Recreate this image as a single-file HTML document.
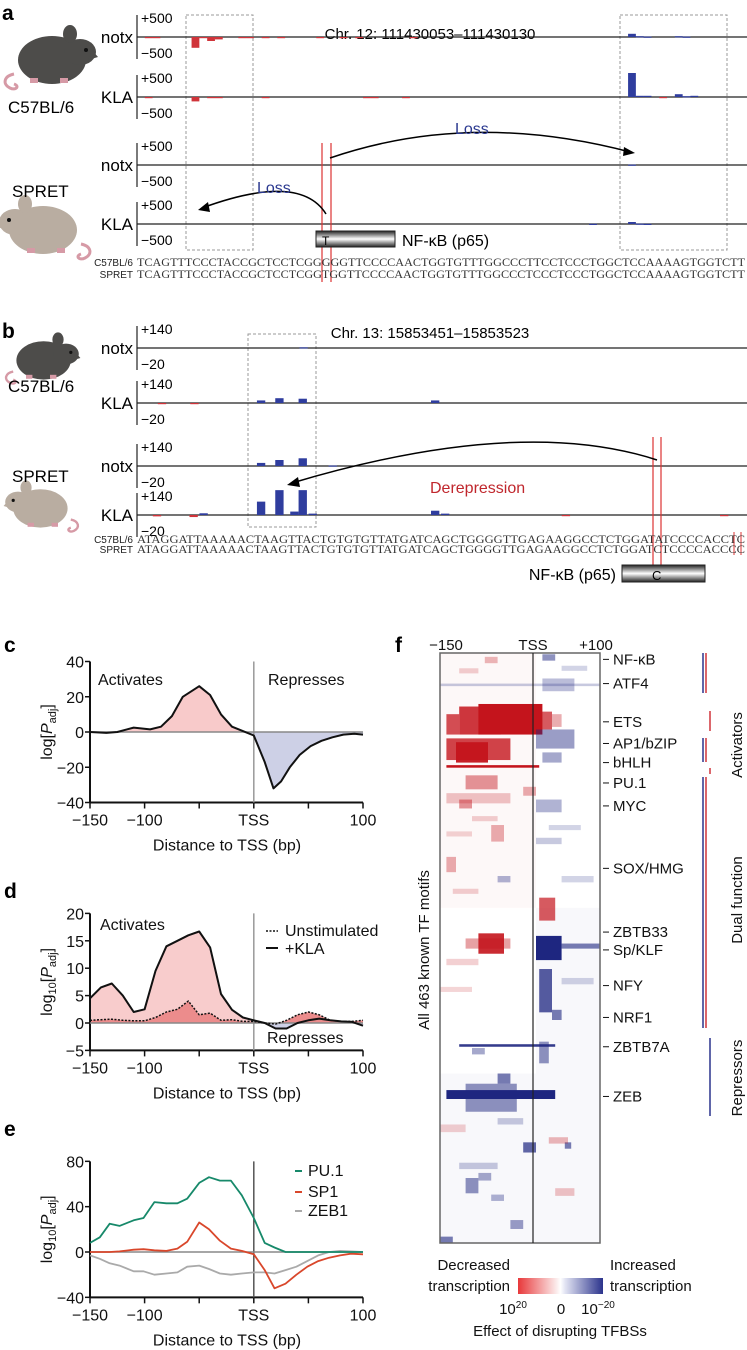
<!DOCTYPE html>
<html><head><meta charset="utf-8"><style>
body{margin:0;background:#fff;}
svg{display:block;font-family:"Liberation Sans",sans-serif;}
.pl{font-weight:bold;font-size:21px;}
.tk{font-size:16px;fill:#111;}
.seq{font-family:"Liberation Serif",serif;font-size:12px;fill:#333;}
.sm{font-size:10px;fill:#222;}
.tl{font-size:15px;fill:#111;}
.rl{font-size:15px;fill:#111;}
</style></head><body>
<svg id="fig" width="747" height="1350" viewBox="0 0 747 1350" xmlns="http://www.w3.org/2000/svg">
<defs>
<linearGradient id="boxg" x1="0" y1="0" x2="0" y2="1"><stop offset="0" stop-color="#222"/><stop offset="0.5" stop-color="#fff"/><stop offset="1" stop-color="#222"/></linearGradient>
<linearGradient id="cbar" x1="0" y1="0" x2="1" y2="0"><stop offset="0" stop-color="#e8383a"/><stop offset="0.45" stop-color="#fbeaea"/><stop offset="0.5" stop-color="#fff"/><stop offset="0.55" stop-color="#e4e6f4"/><stop offset="1" stop-color="#2b338c"/></linearGradient>
<g id="mouse">
<path d="M14,62 C4,64 2,72 10,76 C16,79 20,74 14,72" fill="none" stroke="#d69aa6" stroke-width="3"/>
<ellipse cx="52" cy="48" rx="34" ry="24"/>
<ellipse cx="80" cy="40" rx="16" ry="13"/>
<ellipse cx="70" cy="22" rx="7" ry="9"/>
<path d="M92,38 L98,45 L88,48 Z"/>
<rect x="30" y="66" width="8" height="5" fill="#d69aa6"/><rect x="60" y="66" width="8" height="5" fill="#d69aa6"/>
<circle cx="86" cy="38" r="2" fill="#111"/>
</g>
</defs>

<!-- ===== Panel a ===== -->
<text class="pl" x="2" y="20">a</text>
<use href="#mouse" x="0" y="12" fill="#4d4c4a"/>
<use href="#mouse" transform="translate(95,182) scale(-1,1)" fill="#b9ada1"/>
<text x="8" y="113" style="font-size:17px">C57BL/6</text>
<text x="12" y="197" style="font-size:17px">SPRET</text>
<text x="430" y="39" text-anchor="middle" style="font-size:15px">Chr. 12: 111430053–111430130</text>
<rect x="186" y="15" width="67" height="235" fill="none" stroke="#999" stroke-dasharray="3,2"/>
<rect x="620" y="15" width="107" height="235" fill="none" stroke="#999" stroke-dasharray="3,2"/>
<g id="tracksA"></g>
<line x1="322" y1="143" x2="322" y2="282" stroke="#d33" stroke-width="1.2"/><line x1="331" y1="143" x2="331" y2="282" stroke="#d33" stroke-width="1.2"/>
<path d="M330,158 Q470,110 630,152" fill="none" stroke="#000" stroke-width="1.5"/>
<path d="M624,147 L635,153 L623,156 Z" fill="#000"/>
<text x="455" y="134" style="font-size:16px;fill:#2b3990">Loss</text>
<path d="M326,214 Q300,172 202,208" fill="none" stroke="#000" stroke-width="1.5"/>
<path d="M208,202 L198,210 L210,212 Z" fill="#000"/>
<text x="257" y="193" style="font-size:16px;fill:#2b3990">Loss</text>
<rect x="316" y="231" width="79" height="16" fill="url(#boxg)" stroke="#222"/>
<text x="322" y="245" style="font-size:12px">T</text>
<text x="402" y="246" style="font-size:16px">NF-κB (p65)</text>
<text class="sm" x="133" y="266" text-anchor="end">C57BL/6</text>
<text class="sm" x="133" y="278" text-anchor="end">SPRET</text>
<text class="seq" x="137" y="266" textLength="608" lengthAdjust="spacingAndGlyphs">TCAGTTTCCCTACCGCTCCTCGGGGGTTCCCCAACTGGTGTTTGGCCCTTCCTCCCTGGCTCCAAAAGTGGTCTT</text>
<text class="seq" x="137" y="278" textLength="608" lengthAdjust="spacingAndGlyphs">TCAGTTTCCCTACCGCTCCTCGGTGGTTCCCCAACTGGTGTTTGGCCCTCCCTCCCTGGCTCCAAAAGTGGTCTT</text>

<!-- ===== Panel b ===== -->
<text class="pl" x="2" y="338">b</text>
<use href="#mouse" transform="translate(2,322) scale(0.8)" fill="#4d4c4a"/>
<use href="#mouse" transform="translate(82,470) scale(-0.8,0.8)" fill="#b9ada1"/>
<text x="8" y="392" style="font-size:17px">C57BL/6</text>
<text x="12" y="482" style="font-size:17px">SPRET</text>
<text x="430" y="338" text-anchor="middle" style="font-size:15px">Chr. 13: 15853451–15853523</text>
<rect x="248" y="334" width="68" height="193" fill="none" stroke="#999" stroke-dasharray="3,2"/>
<g id="tracksB"></g>
<line x1="653" y1="437" x2="653" y2="582" stroke="#d33" stroke-width="1.2"/><line x1="661" y1="437" x2="661" y2="582" stroke="#d33" stroke-width="1.2"/>
<line x1="734" y1="532" x2="734" y2="555" stroke="#d33"/><line x1="741" y1="532" x2="741" y2="555" stroke="#d33"/>
<path d="M657,460 Q520,415 292,483" fill="none" stroke="#000" stroke-width="1.5"/>
<path d="M298,477 L287,485 L300,487 Z" fill="#000"/>
<text x="430" y="493" style="font-size:16px;fill:#c0272d">Derepression</text>
<text class="sm" x="133" y="543" text-anchor="end">C57BL/6</text>
<text class="sm" x="133" y="553" text-anchor="end">SPRET</text>
<text class="seq" x="137" y="543" textLength="608" lengthAdjust="spacingAndGlyphs">ATAGGATTAAAAACTAAGTTACTGTGTGTTATGATCAGCTGGGGTTGAGAAGGCCTCTGGATATCCCCACCTC</text>
<text class="seq" x="137" y="553" textLength="608" lengthAdjust="spacingAndGlyphs">ATAGGATTAAAAACTAAGTTACTGTGTGTTATGATCAGCTGGGGTTGAGAAGGCCTCTGGATCTCCCCACCCC</text>
<rect x="622" y="565" width="83" height="17" fill="url(#boxg)" stroke="#222"/>
<text x="652" y="580" style="font-size:13px">C</text>
<text x="616" y="580" text-anchor="end" style="font-size:16px">NF-κB (p65)</text>

<!-- ===== Panels c,d,e ===== -->
<text class="pl" x="4" y="652">c</text>
<text class="pl" x="4" y="898">d</text>
<text class="pl" x="4" y="1136">e</text>
<g id="chartC"></g><g id="chartD"></g><g id="chartE"></g>

<!-- ===== Panel f ===== -->
<text class="pl" x="395" y="652">f</text>
<text class="tl" x="446" y="650" text-anchor="middle">−150</text>
<text class="tl" x="533" y="650" text-anchor="middle">TSS</text>
<text class="tl" x="596" y="650" text-anchor="middle">+100</text>
<g id="heat"></g>
<rect x="440" y="653" width="160" height="590" fill="none" stroke="#666" stroke-width="1.5"/>
<line x1="533" y1="653" x2="533" y2="1243" stroke="#222" stroke-width="1.2"/>
<text transform="translate(429,950) rotate(-90)" text-anchor="middle" class="rl">All 463 known TF motifs</text>
<g id="flabels"></g>
<g>
<line x1="703" y1="653" x2="703" y2="693" stroke="#2b338c" stroke-width="1.5"/><line x1="706" y1="653" x2="706" y2="693" stroke="#d0343a" stroke-width="1.5"/>
<line x1="710" y1="711" x2="710" y2="731" stroke="#d0343a" stroke-width="1.5"/>
<line x1="703" y1="738" x2="703" y2="762" stroke="#2b338c" stroke-width="1.5"/><line x1="706" y1="738" x2="706" y2="762" stroke="#d0343a" stroke-width="1.5"/>
<line x1="710" y1="768" x2="710" y2="774" stroke="#d0343a" stroke-width="1.5"/>
<line x1="703" y1="777" x2="703" y2="1028" stroke="#2b338c" stroke-width="1.5"/><line x1="706" y1="777" x2="706" y2="1028" stroke="#d0343a" stroke-width="1.5"/>
<line x1="710" y1="1038" x2="710" y2="1116" stroke="#2b338c" stroke-width="1.5"/>
</g>
<text transform="translate(742,745) rotate(-90)" text-anchor="middle" class="rl">Activators</text>
<text transform="translate(742,900) rotate(-90)" text-anchor="middle" class="rl">Dual function</text>
<text transform="translate(742,1078) rotate(-90)" text-anchor="middle" class="rl">Repressors</text>
<rect x="518" y="1278" width="85" height="16" fill="url(#cbar)"/>
<text class="tl" x="510" y="1270" text-anchor="end">Decreased</text>
<text class="tl" x="510" y="1291" text-anchor="end">transcription</text>
<text class="tl" x="610" y="1270">Increased</text>
<text class="tl" x="610" y="1291">transcription</text>
<text class="tl" x="513" y="1314" text-anchor="middle">10<tspan dy="-6" style="font-size:10px">20</tspan></text>
<text class="tl" x="561" y="1314" text-anchor="middle">0</text>
<text class="tl" x="598" y="1314" text-anchor="middle">10<tspan dy="-6" style="font-size:10px">−20</tspan></text>
<text class="tl" x="560" y="1336" text-anchor="middle">Effect of disrupting TFBSs</text>
</svg>
<script>
// ---------- data ----------
const aC57notx=[[1,-30],[2,-10],[7,-270],[8,-20],[9,-100],[10,-60],[13,-10],[14,-15],[16,-15],[18,-10],[23,-10],[26,-10],[28,-10],[35,-5],[63,80],[64,20],[65,10],[69,20],[70,10]];
const aC57kla=[[1,-10],[7,-110],[9,-20],[10,-20],[16,-20],[29,-20],[30,-20],[34,-10],[63,600],[64,30],[65,30],[67,-15],[69,70],[70,20],[71,30]];
const aSPnotx=[[63,10]];
const aSPkla=[[58,5],[63,50],[64,10],[65,5]];
const bC57notx=[[19.5,4]];
const bC57kla=[[2.5,-4],[6.4,-4],[14.4,15],[16.6,28],[19.4,25],[35.3,15]];
const bSPnotx=[[14.4,18],[16.6,35],[19.4,45],[23,3]];
const bSPkla=[[1.9,-8],[6.3,-12],[7.5,10],[14.4,78],[16.6,145],[18.4,20],[19.4,145],[20.6,8],[35.3,25],[36.5,8],[51,-4],[70,-4]];
const cX=[-150,-135,-125,-110,-95,-85,-75,-65,-50,-40,-30,-20,-10,0,10,18,25,33,42,52,62,72,82,92,100];
const cY=[0,-0.5,0,2.5,1.5,3,9,20,26,21,10,3,0.5,-2,-17,-32,-28,-20,-13,-8,-5,-3,-1.5,-1,-1.5];
const dX=[-150,-140,-130,-120,-110,-100,-90,-80,-70,-60,-50,-40,-30,-20,-10,0,10,20,30,40,50,60,70,80,90,100];
const dKLA=[4.5,6.5,7.2,5,2,2.5,9.5,14,15,16,16.7,13.8,5.3,2.4,1,0.5,0,-1,-1,0,0.5,0.8,0.5,0.3,0.2,-0.5];
const dUn=[0.5,0.6,0.7,0.5,0.4,0.4,1,2,2.5,4,1.5,1.8,0.5,0.6,0.3,0.3,0,-0.2,0.5,1.5,2,1.5,0.5,0.3,0.3,0.5];
const eX=[-150,-141,-132,-123,-110,-101,-91,-80,-70,-61,-50,-41,-31,-21,-11,0,10,19,29,39,49,59,69,79,89,100];
const ePU1=[8,13,25,23,28,30,44,43,43,47,61,66,63,63,50,30,8,4,0,0,0,0,0,0,0,0];
const eSP1=[0,0,0,0.5,2,2.5,1.5,1,3,9,26,20,10,3,1,-2,-16,-32,-28,-20,-13,-8,-5,-3,-1.5,-2];
const eZEB1=[-3,-6,-10,-12,-17,-17,-20,-19,-18,-13,-12,-15,-19,-20,-19,-18,-18,-19,-16,-13,-8,-3,0,1,0.5,0];
// heatmap blobs: [bpStart,bpEnd,rowStart,rowEnd,value(+red,-blue)]
const heatBlobs=[[-150,0,0,200,0.03],[0,100,200,330,-0.03],[-150,100,330,463,-0.03],
[10,30,1,6,-0.5],[-80,-60,3,8,0.3],[-150,100,24,26,-0.25],[10,60,20,30,-0.3],[-120,-90,12,16,0.2],[40,80,10,14,-0.2],
[-140,-120,48,64,0.75],[-120,-55,42,64,0.85],[-90,10,40,64,1.0],[0,25,46,60,0.7],[25,40,48,58,0.35],
[-140,-40,67,84,0.8],[-125,-75,70,86,0.95],[-140,5,88,90,1.0],[0,60,60,75,-0.45],[10,40,78,86,-0.4],
[-110,-60,96,107,0.45],[-140,-40,110,118,0.25],[-120,-100,115,122,0.45],[-20,0,105,112,0.35],[0,40,115,125,-0.35],
[-140,-125,160,172,0.35],[-70,-50,135,148,0.35],[-60,-40,175,180,-0.35],[0,40,145,150,-0.25],
[-100,-60,128,132,0.2],[-140,-100,140,144,0.18],[20,70,135,139,-0.2],[-130,-90,185,189,0.2],[40,90,175,180,-0.2],
[5,30,192,210,0.7],[-90,-50,220,236,0.9],[-110,-40,224,232,0.4],[0,40,222,241,-1.0],[40,100,228,232,-0.6],
[-140,-90,240,245,0.2],[-150,-100,262,266,0.18],[40,90,255,260,-0.2],
[5,25,248,282,-0.75],[25,40,280,288,-0.6],[-120,30,307,309,-0.9],[5,20,305,322,-0.5],[-100,-80,310,315,-0.4],
[-140,30,343,350,-1.0],[-110,-30,338,360,-0.5],[-60,-40,330,338,-0.6],[-20,0,384,392,-0.7],[45,55,384,389,-0.6],
[-110,-90,412,424,-0.5],[-90,-70,408,414,-0.4],[-70,-50,425,430,-0.35],[-40,-20,445,452,-0.45],[-150,-130,458,463,-0.6],
[-120,-60,400,405,-0.25],[20,50,380,385,0.3],[30,60,420,426,0.25],[-150,-110,370,376,0.2],[-60,-20,365,370,-0.25]];
const fLabels=["NF-κB","ATF4","ETS","AP1/bZIP","bHLH","PU.1","MYC","SOX/HMG","ZBTB33","Sp/KLF","NFY","NRF1","ZBTB7A","ZEB"];
const fRows=[5,24,54,71,86,102,120,169,219,233,261,286,309,348];
// ---------- helpers ----------
const NS="http://www.w3.org/2000/svg";
function mk(tag,attrs,parent){const e=document.createElementNS(NS,tag);for(const k in attrs)e.setAttribute(k,attrs[k]);parent.appendChild(e);return e;}
function txt(s,attrs,parent){const e=mk("text",attrs,parent);e.textContent=s;return e;}

// ---------- genome tracks ----------
function track(g,zeroY,data,x0,step,scale,top,bot,label,name){
  const grp=mk("g",{},g);
  
  
  mk("line",{x1:137,y1:zeroY-22,x2:137,y2:zeroY+22,stroke:"#222","stroke-width":1.2},grp);
  mk("line",{x1:137,y1:zeroY,x2:747,y2:zeroY,stroke:"#222","stroke-width":1.2},grp);
  txt(top,{x:141,y:zeroY-14,"font-size":14},grp);
  txt(bot,{x:141,y:zeroY+21,"font-size":14},grp);
  txt(label,{x:133,y:zeroY+6,"text-anchor":"end","font-size":17},grp);
  data.forEach(d=>{
    const h=d[1]*scale, x=x0+d[0]*step;
    const b=mk("rect",{x:x,y:h>0?zeroY-h:zeroY,width:step,height:Math.max(Math.abs(h),1.2),fill:h>0?"#2f3d9e":"#d0343a"},grp);
    
    
  });
}
const tA=document.getElementById("tracksA"), sA=608/78;
track(tA,37,aC57notx,137,sA,20/500,"+500","−500","notx","track-c57-notx-a");
track(tA,97,aC57kla,137,sA,20/500,"+500","−500","KLA","track-c57-kla-a");
track(tA,165,aSPnotx,137,sA,20/500,"+500","−500","notx","track-spret-notx-a");
track(tA,224,aSPkla,137,sA,20/500,"+500","−500","KLA","track-spret-kla-a");
const tB=document.getElementById("tracksB"), sB=608/73;
track(tB,348,bC57notx,137,sB,24/140,"+140","−20","notx","track-c57-notx-b");
track(tB,403,bC57kla,137,sB,24/140,"+140","−20","KLA","track-c57-kla-b");
track(tB,466,bSPnotx,137,sB,24/140,"+140","−20","notx","track-spret-notx-b");
track(tB,515,bSPkla,137,sB,24/140,"+140","−20","KLA","track-spret-kla-b");

// ---------- line charts ----------
const sx=bp=>90+(bp+150)/250*273;
function axes(g,y0,y1,sy,ticks,tickLabels,title,tssColor){
  const ax=mk("g",{},g);
  
  
  mk("line",{x1:90,y1:sy(ticks[0]),x2:90,y2:sy(ticks[ticks.length-1]),stroke:"#111","stroke-width":2},ax);
  ticks.forEach((t,i)=>{const y=sy(t);mk("line",{x1:85,y1:y,x2:90,y2:y,stroke:"#111","stroke-width":1.5},ax);
    txt(tickLabels[i],{x:84,y:y+6,"text-anchor":"end",class:"tk"},ax);});
  const yb=sy(ticks[0]);
  mk("line",{x1:90,y1:yb,x2:363,y2:yb,stroke:"#111","stroke-width":2},ax);
  [-150,-100,-50,0,50,100].forEach(b=>mk("line",{x1:sx(b),y1:yb,x2:sx(b),y2:yb+6,stroke:"#111","stroke-width":1.5},ax));
  [[-150,"−150"],[-100,"−100"],[0,"TSS"],[100,"100"]].forEach(p=>txt(p[1],{x:sx(p[0]),y:yb+23,"text-anchor":"middle",class:"tk"},ax));
  txt("Distance to TSS (bp)",{x:227,y:yb+48,"text-anchor":"middle",class:"tk"},ax);
  mk("line",{x1:sx(0),y1:sy(ticks[ticks.length-1]),x2:sx(0),y2:yb,stroke:tssColor,"stroke-width":1.5},ax);
  mk("line",{x1:90,y1:sy(0),x2:363,y2:sy(0),stroke:"#888","stroke-width":1.5},ax);
  const t=txt("",{transform:`translate(52,${(sy(ticks[0])+sy(ticks[ticks.length-1]))/2}) rotate(-90)`,"text-anchor":"middle",class:"tk"},ax);
  t.innerHTML=title;
  
  
}
function pts(X,Y,sy){return X.map((x,i)=>sx(x).toFixed(1)+","+sy(Y[i]).toFixed(1));}
let clipN=0;
function area(g,X,Y,sy,fill,clipTop){
  const p=pts(X,Y,sy);
  const d="M"+sx(X[0])+","+sy(0)+" L"+p.join(" L")+" L"+sx(X[X.length-1])+","+sy(0)+"Z";
  const id="cl"+(clipN++);
  const cp=mk("clipPath",{id:id},g);
  mk("rect",clipTop?{x:0,y:0,width:400,height:sy(0)}:{x:0,y:sy(0),width:400,height:400},cp);
  const a=mk("path",{d:d,fill:fill,"clip-path":`url(#${id})`},g);
  
  
}
function line(g,X,Y,sy,color,w,dash,name){
  const l=mk("polyline",{points:pts(X,Y,sy).join(" "),fill:"none",stroke:color,"stroke-width":w,"stroke-dasharray":dash||"none","stroke-linejoin":"round"},g);
  
  
}
// c
const gC=document.getElementById("chartC"), syC=v=>732-v*141/80;
area(gC,cX,cY,syC,"#f8caca",true); area(gC,cX,cY,syC,"#cdd0e6",false);
axes(gC,0,0,syC,[-40,-20,0,20,40],["−40","−20","0","20","40"],'log[<tspan font-style="italic">P</tspan><tspan font-size="11" dy="4">adj</tspan><tspan dy="-4">]</tspan>',"#999");
line(gC,cX,cY,syC,"#111",2,null,"line-c");
txt("Activates",{x:98,y:685,class:"tk"},gC); txt("Represses",{x:268,y:685,class:"tk"},gC);
// d
const gD=document.getElementById("chartD"), syD=v=>1023-v*5.48;
area(gD,dX,dKLA,syD,"#f8cccc",true); area(gD,dX,dUn,syD,"#ec8c8c",true); area(gD,dX,dKLA,syD,"#cdd0e6",false);
axes(gD,0,0,syD,[-5,0,5,10,15,20],["−5","0","5","10","15","20"],'log<tspan font-size="11" dy="4">10</tspan><tspan dy="-4">[</tspan><tspan font-style="italic">P</tspan><tspan font-size="11" dy="4">adj</tspan><tspan dy="-4">]</tspan>',"#999");
line(gD,dX,dUn,syD,"#111",1.5,"2,1.5","line-d-unstimulated");
line(gD,dX,dKLA,syD,"#111",2,null,"line-d-kla");
txt("Activates",{x:100,y:930,class:"tk"},gD); txt("Represses",{x:267,y:1043,class:"tk"},gD);
mk("line",{x1:266,y1:931,x2:278,y2:931,stroke:"#111","stroke-width":1.5,"stroke-dasharray":"2,1.5"},gD);
txt("Unstimulated",{x:285,y:936,class:"tk"},gD);
mk("line",{x1:266,y1:948,x2:278,y2:948,stroke:"#111","stroke-width":2},gD);
txt("+KLA",{x:285,y:954,class:"tk"},gD);
// e
const gE=document.getElementById("chartE"), syE=v=>1252-v*136/120;
axes(gE,0,0,syE,[-40,0,40,80],["−40","0","40","80"],'log<tspan font-size="11" dy="4">10</tspan><tspan dy="-4">[</tspan><tspan font-style="italic">P</tspan><tspan font-size="11" dy="4">adj</tspan><tspan dy="-4">]</tspan>',"#555");
line(gE,eX,eZEB1,syE,"#aaa",1.8,null,"line-zeb1");
line(gE,eX,eSP1,syE,"#d9472b",1.8,null,"line-sp1");
line(gE,eX,ePU1,syE,"#17896a",1.8,null,"line-pu1");
[["PU.1","#17896a",1176],["SP1","#d9472b",1197],["ZEB1","#aaa",1216]].forEach(l=>{
  mk("line",{x1:295,y1:l[2]-5,x2:302,y2:l[2]-5,stroke:l[1],"stroke-width":2},gE);
  const t=txt(l[0],{x:308,y:l[2],class:"tk"},gE);
  
  
});
// ---------- heatmap ----------
const gH=document.getElementById("heat");
const hx=bp=>440+(bp+150)/250*160, hy=r=>653+r*590/463;
function col(v){const a=Math.min(1,Math.abs(v));return v>0?`rgba(196,20,28,${a})`:`rgba(30,38,128,${a})`;}
heatBlobs.forEach(b=>{
  const r=mk("rect",{x:hx(b[0]),y:hy(b[2]),width:hx(b[1])-hx(b[0]),height:Math.max(hy(b[3])-hy(b[2]),1.3),fill:col(b[4])},gH);
  
  
});
const gL=document.getElementById("flabels");
fLabels.forEach((s,i)=>{
  const y=hy(fRows[i]);
  mk("line",{x1:603,y1:y,x2:609,y2:y,stroke:"#111"},gL);
  const t=txt(s,{x:613,y:y+5,class:"rl"},gL);
  
  
});
</script>
</body></html>
